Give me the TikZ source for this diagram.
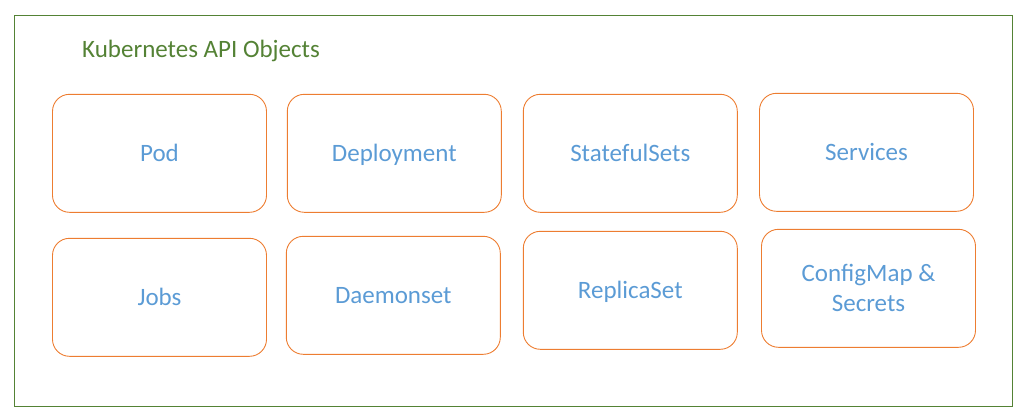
\documentclass[tikz,border=0pt]{standalone}
\usepackage{fontspec}
\setmainfont{Carlito}
\definecolor{kgreen}{HTML}{548235}
\definecolor{korange}{HTML}{ED7D31}
\definecolor{kblue}{HTML}{5B9BD5}
\tikzset{
  objbox/.style={draw=korange, line width=0.9pt, rounded corners=17pt,
    minimum width=214pt, minimum height=118pt, inner sep=0pt,
    text=kblue, font=\fontsize{25}{30}\selectfont, align=center},
  oneline/.style={text height=17pt, text depth=0pt},
  titletext/.style={text=kgreen, font=\fontsize{25}{30}\selectfont, inner sep=0pt, anchor=base west},
  frame/.style={draw=kgreen, line width=1pt}
}
\begin{document}
\begin{tikzpicture}[x=1pt,y=-1pt]
\useasboundingbox (0,0) rectangle (1026,418);
\node[frame, minimum width=998pt, minimum height=391.7pt, inner sep=0pt] (outer) at (513.3,210.85) {};
\node[titletext] (title) at (82,57) {Kubernetes API Objects};
\node[objbox, oneline] (pod) at (159.5,153.3) {Pod};
\node[objbox, oneline] (deploy) at (394.3,153.3) {Deployment};
\node[objbox, oneline] (sts) at (630.3,153.3) {StatefulSets};
\node[objbox, oneline] (svc) at (866.5,152.3) {Services};
\node[objbox, oneline] (jobs) at (159.5,297.3) {Jobs};
\node[objbox, oneline] (ds) at (393.3,295.3) {Daemonset};
\node[objbox, oneline] (rs) at (630.3,290.3) {ReplicaSet};
\node[objbox] (cm) at (868.5,288.3) {ConfigMap \&\\Secrets};
\end{tikzpicture}
\end{document}
